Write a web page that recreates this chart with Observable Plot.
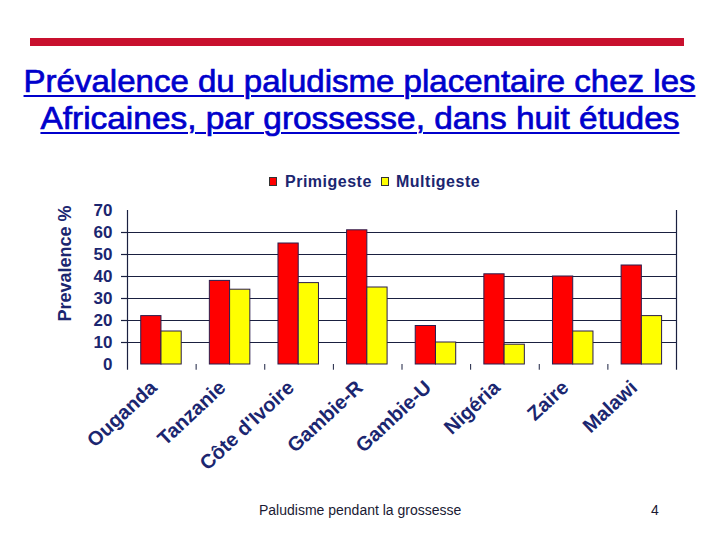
<!DOCTYPE html>
<html>
<head>
<meta charset="utf-8">
<script src="https://cdn.jsdelivr.net/npm/d3@7"></script>
<script src="https://cdn.jsdelivr.net/npm/@observablehq/plot@0.6"></script>
<style>
  html, body { margin: 0; padding: 0; background: #fff; }
  body { width: 720px; height: 540px; position: relative; overflow: hidden; font-family: "Liberation Sans", Arial, sans-serif; }
  #topbar { position: absolute; left: 30px; top: 38px; width: 654px; height: 8px; background: #c8102e; }
  .tline { position: absolute; left: 0; width: 720px; text-align: center; color: #0000cc; font-size: 32px; line-height: 37px; white-space: nowrap; -webkit-text-stroke: 0.7px #0000cc; }
  .tline span { display: inline-block; text-decoration: underline; text-decoration-thickness: 2px; text-underline-offset: 3px; transform-origin: center; }
  .leg { position: absolute; font-size: 16px; font-weight: bold; color: #1b2670; letter-spacing: 0.5px; line-height: 16px; white-space: nowrap; }
  .sw { position: absolute; width: 8px; height: 9px; border: 1px solid #333; box-sizing: border-box; }
  .foot { position: absolute; font-size: 14px; line-height: 14px; color: #1a1a33; white-space: nowrap; }
  #chart { position: absolute; left: 0; top: 160px; }
</style>
</head>
<body>
<div id="topbar"></div>
<div class="tline" id="t1" style="top:63px"><span>Prévalence du paludisme placentaire chez les</span></div>
<div class="tline" id="t2" style="top:100px"><span>Africaines, par grossesse, dans huit études</span></div>
<div id="legend"></div>
<div id="chart"></div>
<div class="foot" style="left:259px; top:503px">Paludisme pendant la grossesse</div>
<div class="foot" style="left:651px; top:503px">4</div>
<script>
const countries = ["Ouganda", "Tanzanie", "Côte d'Ivoire", "Gambie-R", "Gambie-U", "Nigéria", "Zaire", "Malawi"];
const primigeste = [22, 38, 55, 61, 17.5, 41, 40, 45];
const multigeste = [15, 34, 37, 35, 10, 9, 15, 22];
const seriesNames = ["Primigeste", "Multigeste"];
const seriesColors = ["#ff0000", "#ffff00"];
const yTicks = [0, 10, 20, 30, 40, 50, 60, 70];
const gridValues = [10, 20, 30, 40, 50, 60];
const yLabel = "Prevalence %";

const navy = "#1b2670";
const barStart = 0.2, barWidth = 0.295, tickDepth = 2.6;

const rows = [];
countries.forEach((c, i) => {
  [primigeste[i], multigeste[i]].forEach((v, k) => {
    rows.push({country: c, series: seriesNames[k], value: v,
      x1: i + barStart + k * barWidth, x2: i + barStart + (k + 1) * barWidth});
  });
});

const chart = Plot.plot({
  width: 720,
  height: 330,
  marginLeft: 127,
  marginRight: 44,
  marginTop: 50,
  marginBottom: 126,
  style: {fontFamily: "'Liberation Sans', Arial, sans-serif", fontWeight: "bold", color: navy, background: "transparent", overflow: "visible"},
  x: {type: "linear", domain: [0, countries.length], axis: null},
  y: {domain: [0, 70]},
  color: {domain: seriesNames, range: seriesColors},
  marks: [
    Plot.ruleY(gridValues, {stroke: "#1a2040", strokeWidth: 1.2}),
    Plot.axisY({ticks: gridValues, tickSize: 6, tickFormat: () => "", stroke: "#1a2040", strokeWidth: 1.2, label: null}),
    Plot.axisY({ticks: yTicks, tickSize: 0, tickPadding: 15, fontSize: 17, fontWeight: "bold", fill: navy, label: null}),
    Plot.ruleX([0, countries.length], {y1: () => -tickDepth, y2: () => 70, stroke: "#1a2040", strokeWidth: 1.2}),
    Plot.ruleX(d3.range(1, countries.length), {y1: () => -tickDepth, y2: () => 0, stroke: "#1a2040", strokeWidth: 1}),
    Plot.rect(rows, {x1: "x1", x2: "x2", y1: () => 0, y2: "value", fill: "series", stroke: "#2b1d4d", strokeWidth: 1}),
    Plot.text(countries, {x: (d, i) => i + 0.5, y: () => 0, text: d => d, rotate: -43, textAnchor: "end", dx: -8, dy: 20, fontSize: 20, fontWeight: "bold", fill: navy}),
    Plot.text([yLabel], {frameAnchor: "left", text: d => d, rotate: -90, textAnchor: "middle", dx: -62, dy: -24, fontSize: 18, fontWeight: "bold", fill: navy})
  ]
});
document.getElementById("chart").appendChild(chart);

// Legend (HTML, above the SVG)
const legend = document.getElementById("legend");
const legendPos = [{sw: 269, tx: 285}, {sw: 381, tx: 396}];
seriesNames.forEach((name, k) => {
  const sw = document.createElement("div");
  sw.className = "sw";
  sw.style.left = legendPos[k].sw + "px";
  sw.style.top = "177px";
  sw.style.background = seriesColors[k];
  legend.appendChild(sw);
  const t = document.createElement("div");
  t.className = "leg";
  t.style.left = legendPos[k].tx + "px";
  t.style.top = "174px";
  t.textContent = name;
  legend.appendChild(t);
});

// fit title lines to reference widths
[["t1", 672], ["t2", 639]].forEach(([id, w]) => {
  const s = document.querySelector("#" + id + " span");
  const cw = s.getBoundingClientRect().width;
  s.style.transform = `scaleX(${w / cw})`;
});
</script>
</body>
</html>
